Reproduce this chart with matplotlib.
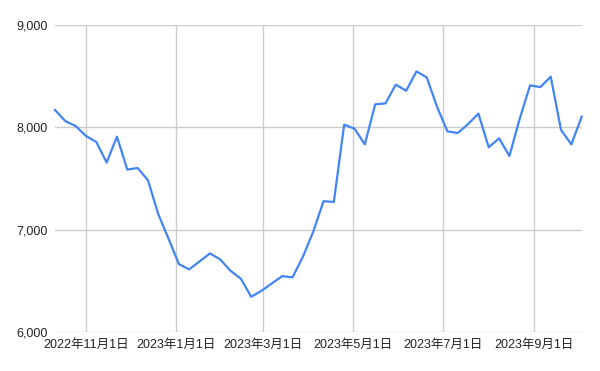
import matplotlib
matplotlib.use("Agg")
import matplotlib.pyplot as plt
import matplotlib.dates as mdates
import numpy as np
import pandas as pd

start_date = "2022-10-11"
values = [8169, 8061, 8013, 7915, 7857, 7656, 7909, 7587, 7603, 7483,
          7151, 6910, 6663, 6612, 6690, 6768, 6709, 6598, 6520, 6344,
          6403, 6475, 6546, 6534, 6735, 6979, 7278, 7271, 8026, 7987,
          7834, 8224, 8234, 8417, 8358, 8546, 8488, 8198, 7961, 7944,
          8032, 8134, 7805, 7893, 7720, 8085, 8410, 8393, 8495, 7974,
          7834, 8104]
dates = pd.date_range(start_date, periods=len(values), freq="7D")

x_ticks = ["2022-11-01", "2023-01-01", "2023-03-01", "2023-05-01", "2023-07-01", "2023-09-01"]
x_tick_labels = ["2022年11月1日", "2023年1月1日", "2023年3月1日", "2023年5月1日", "2023年7月1日", "2023年9月1日"]
y_ticks = [6000, 7000, 8000, 9000]
y_tick_labels = ["6,000", "7,000", "8,000", "9,000"]

plt.rcParams['font.family'] = ['Liberation Sans', 'Noto Sans CJK JP', 'DejaVu Sans']

fig = plt.figure(figsize=(6.0, 3.71), dpi=100)
ax = fig.add_axes([55/600, 1-332/371, (581.7-55)/600, (332-25)/371])

ax.plot(dates, values, color="#4285F4", lw=1.6, solid_joinstyle="round", zorder=3, clip_on=False)

ax.set_xlim(dates[0], dates[-1])
ax.set_ylim(6000, 9000)
xt = pd.to_datetime(x_ticks)
ax.set_xticks(xt)
ax.set_xticklabels(x_tick_labels)
ax.set_yticks(y_ticks)
ax.set_yticklabels(y_tick_labels)

ax.grid(True, color="#cccccc", lw=1.0, zorder=0)
for s in ax.spines.values():
    s.set_visible(False)
ax.tick_params(axis="both", length=0, labelsize=9, colors="#222222")
ax.tick_params(axis="x", pad=5)
ax.tick_params(axis="y", pad=5)

fig.savefig("out.png", dpi=100)
